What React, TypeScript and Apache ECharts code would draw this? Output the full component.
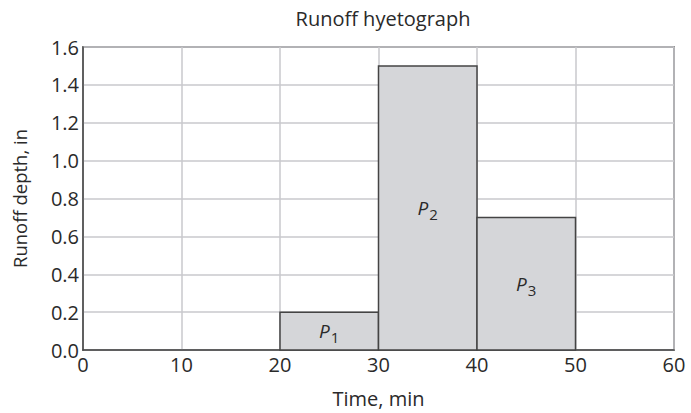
import React, { useEffect, useRef } from "react";
import * as echarts from "echarts";

const startTimes = [20, 30, 40];
const endTimes = [30, 40, 50];
const depths = [0.2, 1.5, 0.7];
const labelSubs = ["1", "2", "3"];
const xTicks = [0, 10, 20, 30, 40, 50, 60];
const yTicks = [0, 0.2, 0.4, 0.6, 0.8, 1.0, 1.2, 1.4, 1.6];

const FONT = "Open Sans";
const TXT = "#2a2a2a";

export default function App() {
  const ref = useRef<HTMLDivElement>(null);
  useEffect(() => {
    if (!ref.current) return;
    const chart = echarts.init(ref.current, null, { renderer: "svg" });
    const data = startTimes.map((s, i) => [s, endTimes[i], depths[i], i]);
    chart.setOption({
      animation: false,
      backgroundColor: "#ffffff",
      title: {
        text: "Runoff hyetograph",
        left: 378,
        textAlign: "center",
        top: 3,
        textStyle: { fontFamily: FONT, fontSize: 20, fontWeight: "normal", color: TXT },
      },
      grid: {
        left: 83,
        right: 17,
        top: 47,
        bottom: 62,
        show: true,
        borderColor: "#444",
        borderWidth: 1.5,
        backgroundColor: "transparent",
      },
      xAxis: {
        type: "value",
        min: xTicks[0],
        max: xTicks[xTicks.length - 1],
        interval: 10,
        name: "Time, min",
        nameLocation: "middle",
        nameGap: 38,
        nameTextStyle: { fontFamily: FONT, fontSize: 20, color: TXT },
        axisLine: { show: true, lineStyle: { color: "#444", width: 1.5 } },
        axisTick: { show: false },
        axisLabel: { fontFamily: FONT, fontSize: 20, color: TXT, margin: 4 },
        splitLine: { show: true, lineStyle: { color: "#c8c8cc", width: 1.5 } },
      },
      yAxis: {
        type: "value",
        min: yTicks[0],
        max: yTicks[yTicks.length - 1],
        interval: 0.2,
        name: "Runoff depth, in",
        nameLocation: "middle",
        nameGap: 54,
        nameTextStyle: { fontFamily: FONT, fontSize: 18.5, color: TXT },
        axisLine: { show: true, lineStyle: { color: "#444", width: 1.5 } },
        axisTick: { show: false },
        axisLabel: {
          fontFamily: FONT,
          fontSize: 20,
          color: TXT,
          margin: 4,
          formatter: (v: number) => v.toFixed(1),
        },
        splitLine: { show: true, lineStyle: { color: "#c8c8cc", width: 1.5 } },
      },
      series: [
        {
          type: "custom",
          data,
          encode: { x: [0, 1], y: 2 },
          renderItem: (params: any, api: any) => {
            const x0 = api.value(0);
            const x1 = api.value(1);
            const h = api.value(2);
            const idx = api.value(3);
            const p0 = api.coord([x0, h]);
            const p1 = api.coord([x1, 0]);
            const cx = (p0[0] + p1[0]) / 2;
            const cy = (p0[1] + p1[1]) / 2;
            return {
              type: "group",
              children: [
                {
                  type: "rect",
                  shape: { x: p0[0], y: p0[1], width: p1[0] - p0[0], height: p1[1] - p0[1] },
                  style: { fill: "#d5d6d9", stroke: "#444", lineWidth: 1.5 },
                },
                {
                  type: "text",
                  x: cx,
                  y: cy,
                  style: {
                    text: "{p|P}{s|" + labelSubs[idx] + "}",
                    align: "center",
                    verticalAlign: "middle",
                    rich: {
                      p: { fontFamily: FONT, fontSize: 19, fontStyle: "italic", fill: TXT, lineHeight: 24 },
                      s: { fontFamily: FONT, fontSize: 15, fill: TXT, padding: [12, 0, 0, 1], lineHeight: 24 },
                    },
                  },
                },
              ],
            };
          },
        },
      ],
    });
    return () => chart.dispose();
  }, []);
  return <div ref={ref} style={{ width: 691, height: 413, position: "absolute", left: 0, top: 0 }} />;
}
